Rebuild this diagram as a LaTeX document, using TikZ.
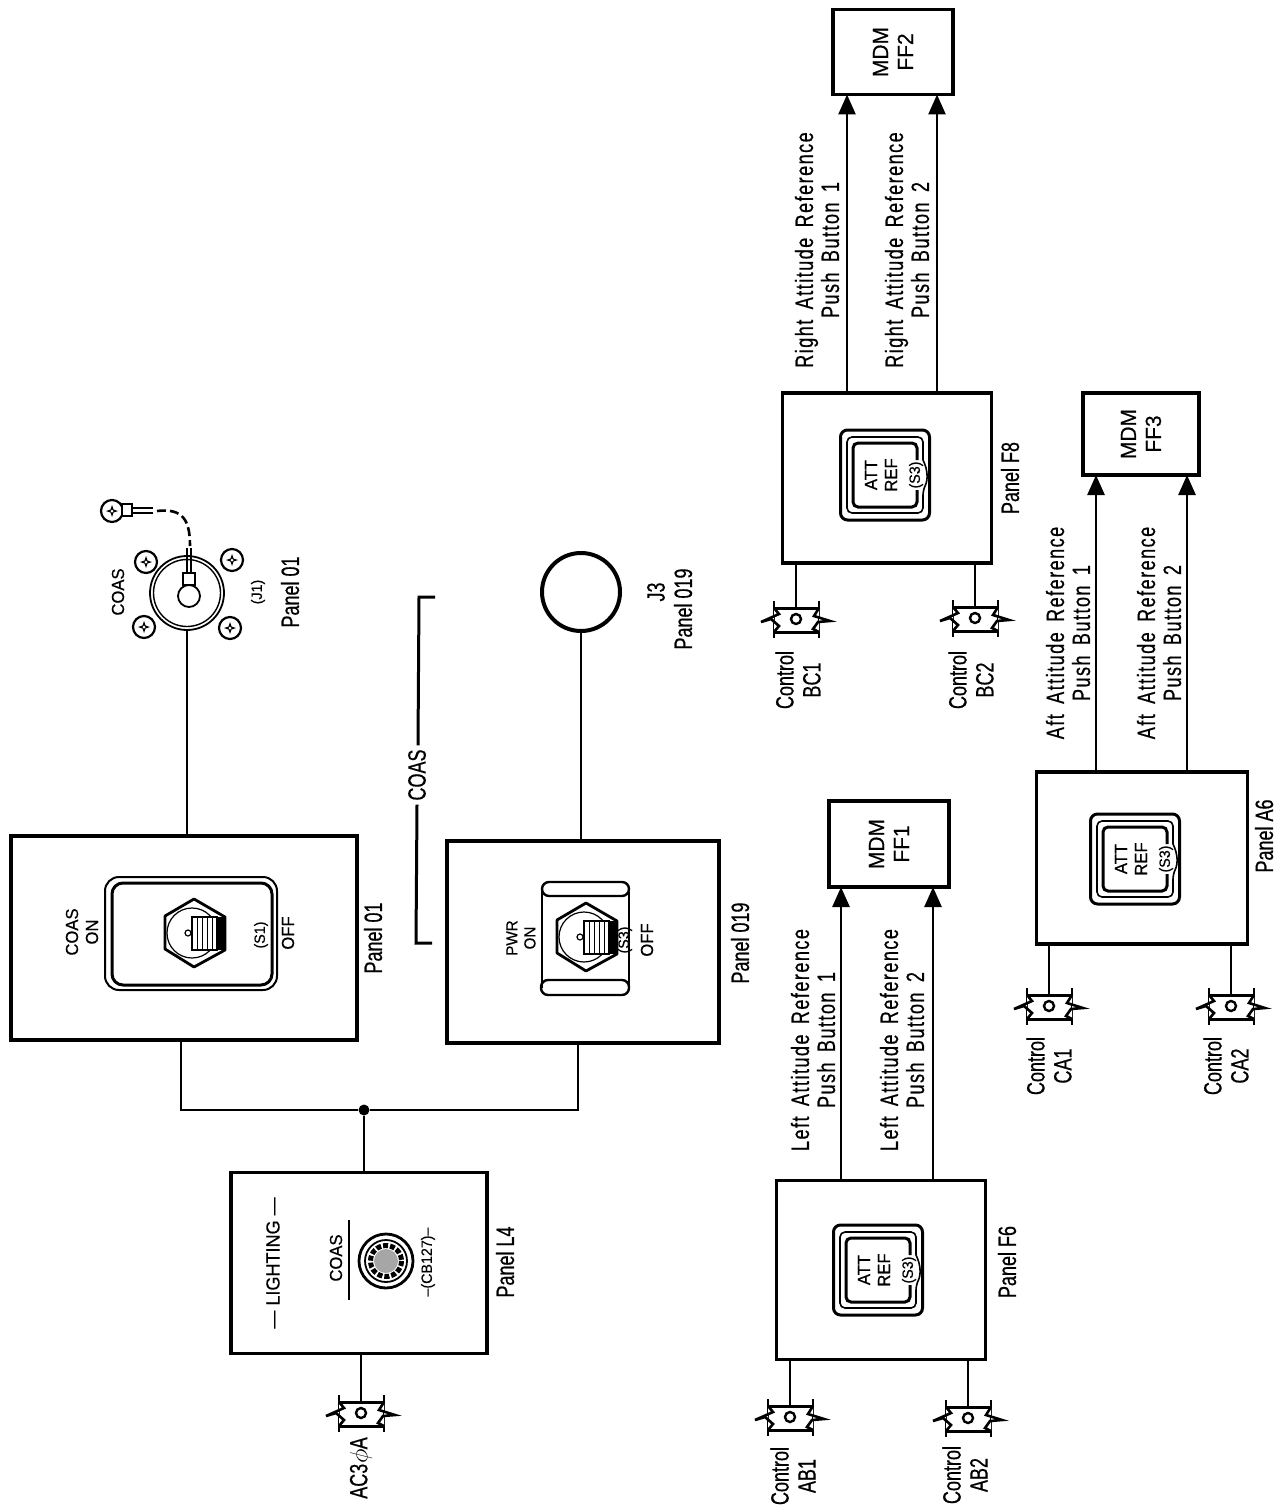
\documentclass[tikz,border=0pt]{standalone}
\usepackage{fontspec}
\setmainfont{Liberation Sans}[FakeStretch=0.72,FakeBold=0.5]
\newfontfamily\reffont{Liberation Sans}[FakeStretch=0.72,FakeBold=0.5,LetterSpace=6,WordSpace=1.6]
\newfontfamily\platefont{Liberation Sans}[FakeStretch=0.95,FakeBold=0.4]
\usetikzlibrary{shapes, arrows.meta, positioning}

\tikzset{
  panelbox/.style={draw, line width=3.5pt, inner sep=0pt, outer sep=0pt},
  wire/.style={line width=2.6pt},
  sigline/.style={line width=2.6pt, -{Triangle[length=20pt,width=17pt]}},
  rotlabel/.style={rotate=90, align=center, inner sep=0pt, font=\fontsize{25}{27}\selectfont},
  reflabel/.style={rotlabel, font=\reffont\fontsize{25}{26}\selectfont},
  platelabel/.style={rotate=90, align=center, inner sep=0pt, font=\platefont\fontsize{17.5}{20}\selectfont},
  tinylabel/.style={platelabel, font=\platefont\fontsize{15}{16}\selectfont},
  screw/.pic={
    \draw[line width=2.2pt, fill=white] (0,0) circle[radius=11];
    \fill (0,-6) -- (1.5,-1.5) -- (6,0) -- (1.5,1.5) -- (0,6) -- (-1.5,1.5) -- (-6,0) -- (-1.5,-1.5) -- cycle;
    \fill[white] (0,0) circle[radius=1.5];
  },
  breaker/.pic={
    \draw[line width=3pt] (-21,-11) -- (24,-11) (-21,13) -- (24,13);
    \draw[line width=2.6pt] (-21,-18) -- (-21,19) (24,-18) -- (24,19);
    \draw[line width=2.6pt, line join=miter, fill=white] (-21,-11) -- (-16,-5) -- (-34,3) -- (-24,0) -- (-16,7) -- (-21,13);
    \draw[line width=2.6pt, line join=miter, fill=white] (24,-11) -- (19,-3) -- (35,2) -- (23,3) -- (18,10) -- (24,13);
    \draw[line width=2.4pt, fill=white] (1,0) circle[radius=5];
  },
  togglesw/.pic={
    \draw[line width=2.8pt, fill=white, line join=round] (-1,-34) -- (30,-16) -- (30,17) -- (-1,34) -- (-30,16) -- (-30,-17) -- cycle;
    \draw[line width=1.2pt] (-3,0) circle[radius=25];
    \fill (22,-16) rectangle (30,17);
    \draw[line width=2pt, fill=white] (-3,-16) rectangle (22,17);
    \foreach \sx in {2,7,12,17} { \draw[line width=1pt] (\sx,-15) -- (\sx,16); }
    \draw[line width=1.2pt, fill=white] (-7,0) circle[radius=3];
  },
  attref/.pic={
    \draw[line width=3pt, rounded corners=7pt] (-44.5,-45) rectangle (44.5,45);
    \draw[line width=1.6pt, rounded corners=5pt] (38,-15) -- (38,-38) -- (-38,-38) -- (-38,38) -- (38,38) -- (38,15)
      .. controls (43,5) and (43,-5) .. (38,-15);
    \draw[line width=3pt, rounded corners=5pt] (32,-15) -- (32,-32) -- (-32,-32) -- (-32,32) -- (32,32) -- (32,15);
    \node[platelabel] (-att) at (-4,0) {ATT\\REF};
    \node[tinylabel] (-sw) at (31,0) {(S3)};
  },
}

\begin{document}
\begin{tikzpicture}[x=1pt, y=-1pt]
  \useasboundingbox (0,0) rectangle (1278,1511);

  % panels
  \node[panelbox, minimum width=346pt, minimum height=204pt] (panel01) at (184,938) {};
  \node[panelbox, minimum width=272pt, minimum height=202pt] (panel019) at (583,942) {};
  \node[panelbox, minimum width=256pt, minimum height=181pt] (panelL4) at (359,1263) {};
  \node[panelbox, minimum width=209pt, minimum height=179pt] (panelF6) at (881,1270) {};
  \node[panelbox, minimum width=209pt, minimum height=170pt] (panelF8) at (887,478) {};
  \node[panelbox, minimum width=211pt, minimum height=172pt] (panelA6) at (1142,858) {};
  \node[panelbox, minimum width=120pt, minimum height=86pt] (mdmFF1) at (889,844) {};
  \node[panelbox, minimum width=120pt, minimum height=85pt] (mdmFF2) at (893,52) {};
  \node[panelbox, minimum width=116pt, minimum height=82pt] (mdmFF3) at (1141,434) {};

  % MDM inputs
  \foreach \panel/\mdm/\xa/\xb in {panelF6/mdmFF1/841/933, panelF8/mdmFF2/847/937, panelA6/mdmFF3/1096/1187} {
    \foreach \xw in {\xa,\xb} {
      \coordinate (w) at (\xw,0);
      \draw[sigline] (\panel.north -| w) -- (\mdm.south -| w);
    }
  }

  % breakers on the panel inputs
  \foreach \brk/\x/\y/\panel in {AC/360/1413/panelL4, AB1/789/1417/panelF6, AB2/967/1418/panelF6,
      BC1/795/619/panelF8, BC2/974/618/panelF8, CA1/1048/1006/panelA6, CA2/1230/1006/panelA6} {
    \coordinate (brk\brk) at (\x+1,\y-11);
    \draw[wire] (\panel.south -| brk\brk) -- (brk\brk);
    \pic at (\x,\y) {breaker};
  }

  % power bus
  \node[circle, fill, inner sep=0pt, minimum size=11pt] (tap) at (364,1110) {};
  \coordinate (busa) at (181,1110);
  \coordinate (busb) at (578,1110);
  \draw[wire] (panel01.south -| busa) -- (busa) -- (tap) -- (busb) -- (panel019.south -| busb);
  \draw[wire] (tap) -- (panelL4.north -| tap);

  % COAS mount
  \node[circle, draw, line width=1.8pt, inner sep=0pt, minimum size=74pt] (j1) at (187,593) {};
  \draw[line width=1.4pt] (j1) circle[radius=33.5];
  \draw[wire] (j1.south) -- (panel01.north -| j1.south);
  \pic at (146,562) {screw};
  \pic at (232,560) {screw};
  \pic at (144,627) {screw};
  \pic at (230,628) {screw};
  \pic at (112,511) {screw};
  \draw[line width=1.8pt] (189,596) circle[radius=11];
  \draw[line width=1.8pt, fill=white] (183,573) rectangle (195,585);
  \draw[line width=1.4pt] (187,573) -- (187,548) (191,573) -- (191,548);
  \draw[line width=1.8pt, fill=white] (122,504) rectangle (132,516);
  \draw[line width=1.4pt] (132,508) -- (153,508) (132,513) -- (153,513);
  \draw[line width=2.6pt, dash pattern=on 9pt off 4pt] (157,511) .. controls (183,508) and (190,520) .. (190,546);

  % J3
  \node[circle, draw, line width=4pt, inner sep=0pt, minimum size=78pt] (j3) at (581,592) {};
  \draw[wire] (j3.south) -- (panel019.north -| j3.south);

  % COAS bracket
  \node[rotlabel, inner sep=4pt] (coasgroup) at (417,775) {COAS};
  \coordinate (bracktop) at (435,597);
  \coordinate (brackbot) at (432,943);
  \draw[line width=3pt] (bracktop) -- (419,597) -- (coasgroup.east -| 418,0);
  \draw[line width=3pt] (coasgroup.west -| 417,0) -- (416,943) -- (brackbot);

  % panel 01 switch
  \draw[line width=2pt, rounded corners=14pt] (105,877) rectangle (277,990);
  \draw[line width=3pt, rounded corners=11pt] (112,883) rectangle (272,985);
  \pic at (195,933) {togglesw};

  % panel 019 switch
  \draw[line width=1.5pt] (542,889) -- (542,988) (629,889) -- (629,988);
  \draw[line width=2.4pt, rounded corners=7pt] (542,882) rectangle (629,896);
  \draw[line width=2.4pt, rounded corners=7pt] (541,980) rectangle (629,995);
  \pic at (587,937) {togglesw};

  % lighting breaker
  \draw[line width=2pt] (349,1220) -- (349,1300);
  \node[circle, draw, line width=2.8pt, inner sep=0pt, minimum size=54pt] (cbknob) at (386,1261) {};
  \draw[line width=1.8pt] (cbknob) circle[radius=21];
  \draw[line width=5pt, dotted] (cbknob) circle[radius=15.5];
  \fill[gray!70] (cbknob) circle[radius=12];

  % attitude push buttons
  \pic (btnF8) at (885,475) {attref};
  \pic (btnF6) at (878,1270) {attref};
  \pic (btnA6) at (1135,859) {attref};

  % labels
  \node[rotlabel] (lblpanel01) at (373,938) {Panel 01};
  \node[rotlabel] (lblpanel019) at (740,943) {Panel 019};
  \node[rotlabel] (lblpanelL4) at (505,1262) {Panel L4};
  \node[rotlabel] (lblpanelF6) at (1007,1262) {Panel F6};
  \node[rotlabel] (lblpanelF8) at (1010,478) {Panel F8};
  \node[rotlabel] (lblpanelA6) at (1264,836) {Panel A6};
  \node[rotlabel] (lblj1panel) at (290,592) {Panel 01};
  \node[tinylabel] (lblj1) at (258,592) {(J1)};
  \node[platelabel] (lblcoasj1) at (118,592) {COAS};
  \node[rotlabel] (lblj3) at (656,592) {J3};
  \node[rotlabel] (lblj3panel) at (683,609) {Panel 019};
  \node[platelabel] (lblcoason) at (82,932) {COAS\\ON};
  \node[platelabel] (lbloff) at (288,933) {OFF};
  \node[tinylabel] (lbls1) at (261,935) {(S1)};
  \node[platelabel, font=\platefont\fontsize{16}{18}\selectfont] (lblpwron) at (521,938) {PWR\\ON};
  \node[platelabel] (lbloff2) at (647,940) {OFF};
  \node[tinylabel] (lbls3) at (625,940) {(S3)};
  \node[platelabel, font=\platefont\fontsize{19}{20}\selectfont] (lbllight) at (273,1263) {— LIGHTING —};
  \node[platelabel] (lblcoascb) at (336,1258) {COAS};
  \node[tinylabel] (lblcb) at (428,1262) {–(CB127)–};
  \node[rotlabel, font=\platefont\fontsize{22}{25}\selectfont] (lblFF1) at (mdmFF1) {MDM\\FF1};
  \node[rotlabel, font=\platefont\fontsize{22}{25}\selectfont] (lblFF2) at (mdmFF2) {MDM\\FF2};
  \node[rotlabel, font=\platefont\fontsize{22}{25}\selectfont] (lblFF3) at (mdmFF3) {MDM\\FF3};
  \node[rotlabel] (lblac) at (361,1468) {AC3$\phi$A};
  \node[rotlabel] (lblab1) at (793,1476) {Control\\AB1};
  \node[rotlabel] (lblab2) at (965,1475) {Control\\AB2};
  \node[rotlabel] (lblbc1) at (798,680) {Control\\BC1};
  \node[rotlabel] (lblbc2) at (971,680) {Control\\BC2};
  \node[rotlabel] (lblca1) at (1049,1066) {Control\\CA1};
  \node[rotlabel] (lblca2) at (1226,1066) {Control\\CA2};
  \node[reflabel] (lblleft1) at (813,1040) {Left Attitude Reference\\Push Button 1};
  \node[reflabel] (lblleft2) at (902,1040) {Left Attitude Reference\\Push Button 2};
  \node[reflabel] (lblright1) at (817,250) {Right Attitude Reference\\Push Button 1};
  \node[reflabel] (lblright2) at (907,250) {Right Attitude Reference\\Push Button 2};
  \node[reflabel] (lblaft1) at (1068,633) {Aft Attitude Reference\\Push Button 1};
  \node[reflabel] (lblaft2) at (1159,633) {Aft Attitude Reference\\Push Button 2};
\end{tikzpicture}
\end{document}
